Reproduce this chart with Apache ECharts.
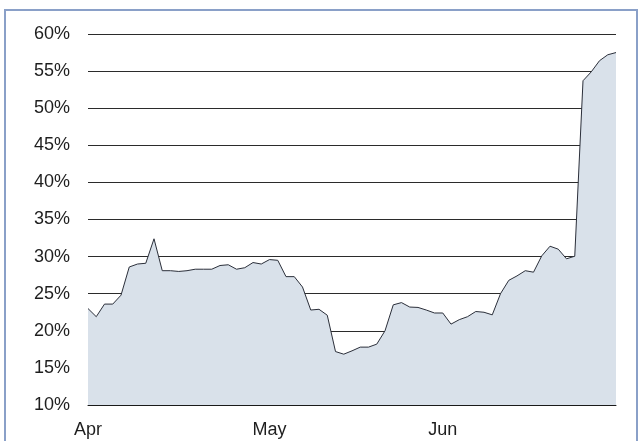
<!DOCTYPE html>
<html>
<head>
<meta charset="utf-8">
<script src="https://cdn.jsdelivr.net/npm/echarts@6/dist/echarts.min.js"></script>
<style>
html,body{margin:0;padding:0;background:#fff;}
#c{width:640px;height:441px;}
</style>
</head>
<body>
<div id="c"></div>
<script>
// business-day series, Apr–Jun
const values = [
  23.0, 21.9, 23.6, 23.6, 24.8, 28.6, 29.0, 29.1, 32.4, 28.1,
  28.1, 28.0, 28.1, 28.3, 28.3, 28.3, 28.8, 28.9, 28.3, 28.5,
  29.2, 29.0, 29.6, 29.5, 27.3, 27.3, 25.9, 22.8, 22.9, 22.1,
  17.2, 16.85, 17.3, 17.8, 17.8, 18.2, 20.0, 23.5, 23.8, 23.2,
  23.15, 22.8, 22.4, 22.4, 20.9, 21.5, 21.9, 22.6, 22.5, 22.15,
  25.0, 26.8, 27.4, 28.1, 27.9, 30.1, 31.4, 31.0, 29.7, 30.05,
  53.7, 54.9, 56.4, 57.2, 57.5
];
const monthStartIdx = [0, 22, 43];
const monthNames = ['Apr', 'May', 'Jun'];
const yTicks = [10, 15, 20, 25, 30, 35, 40, 45, 50, 55, 60];

const categories = values.map((v, i) => {
  const k = monthStartIdx.indexOf(i);
  return k >= 0 ? monthNames[k] : '';
});

const chart = echarts.init(document.getElementById('c'), null, {renderer: 'canvas'});
chart.setOption({
  animation: false,
  backgroundColor: '#ffffff',
  graphic: [{
    type: 'rect',
    shape: {x: 5, y: 10, width: 632, height: 445},
    style: {fill: 'none', stroke: '#8aa0c8', lineWidth: 2},
    silent: true
  }],
  grid: {left: 88, right: 24, top: 34, bottom: 36, containLabel: false},
  xAxis: {
    type: 'category',
    data: categories,
    boundaryGap: false,
    axisLine: {show: true, lineStyle: {color: '#1a1a1a', width: 1}},
    axisTick: {show: false},
    axisLabel: {
      interval: (i) => monthStartIdx.indexOf(i) >= 0,
      color: '#1e1e1e',
      fontFamily: 'Liberation Sans, Arial, sans-serif',
      fontSize: 18,
      margin: 16
    },
    splitLine: {show: false}
  },
  yAxis: {
    type: 'value',
    min: yTicks[0],
    max: yTicks[yTicks.length - 1],
    interval: 5,
    axisLine: {show: false},
    axisTick: {show: false},
    axisLabel: {
      formatter: '{value}%',
      color: '#1e1e1e',
      fontFamily: 'Liberation Sans, Arial, sans-serif',
      fontSize: 18,
      margin: 18,
      padding: [4, 0, 0, 0]
    },
    splitLine: {show: true, lineStyle: {color: '#2b2b2b', width: 1}}
  },
  series: [{
    type: 'line',
    data: values,
    symbol: 'none',
    lineStyle: {color: '#2b2f3a', width: 1},
    areaStyle: {color: '#d9e1ea', opacity: 1},
    z: 3
  }]
});
</script>
</body>
</html>
